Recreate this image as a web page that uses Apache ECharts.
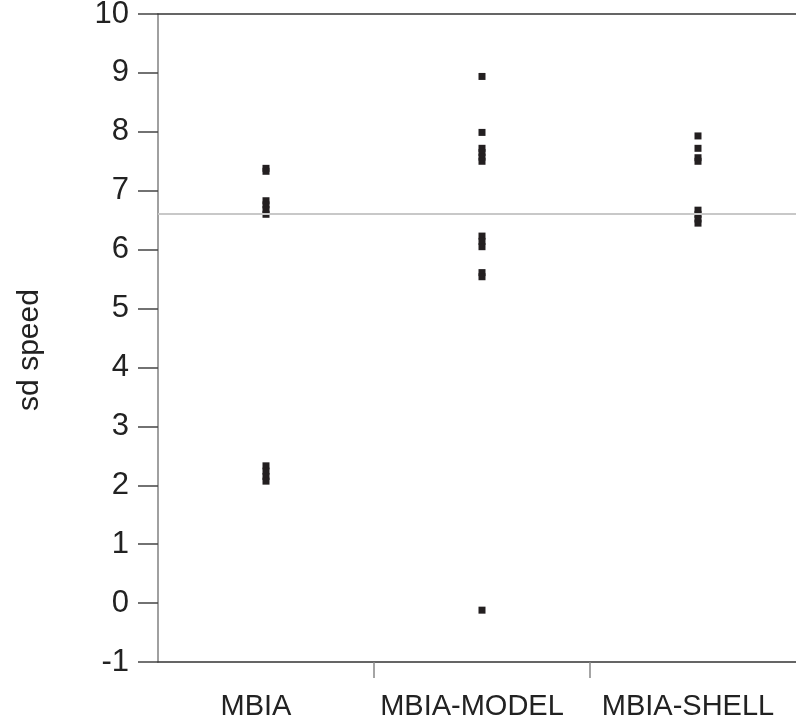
<!DOCTYPE html>
<html>
<head>
<meta charset="utf-8">
<style>
  html, body { margin: 0; padding: 0; background: #ffffff; }
  #chart { width: 796px; height: 719px; }
</style>
<script src="https://cdn.jsdelivr.net/npm/echarts@6/dist/echarts.min.js"></script>
</head>
<body>
<div id="chart"></div>
<script>
// Groups along the x axis
const categories = ['MBIA', 'MBIA-MODEL', 'MBIA-SHELL'];

// Standard deviation of speed, one entry per observation
const sdMBIA = [7.38, 7.33, 6.83, 6.76, 6.68, 6.60, 2.33, 2.24, 2.15, 2.07];
const sdMBIAModel = [8.94, 7.99, 7.72, 7.65, 7.57, 7.50, 6.23, 6.14, 6.05, 5.61, 5.54, -0.12];
const sdMBIAShell = [7.93, 7.72, 7.56, 7.50, 6.67, 6.60, 6.52, 6.45];

// Overall mean line
const overallMean = 6.61;

// Y axis range and step
const yMin = -1;
const yMax = 10;
const yStep = 1;

const groups = [sdMBIA, sdMBIAModel, sdMBIAShell];
const points = [];
groups.forEach(function (vals, gi) {
  vals.forEach(function (v) { points.push([gi, v]); });
});

const font = 'Liberation Sans, Arial, sans-serif';
const chart = echarts.init(document.getElementById('chart'));

chart.setOption({
  animation: false,
  backgroundColor: '#ffffff',
  grid: { left: 158, top: 14, height: 648, width: 648, outerBoundsMode: 'none', containLabel: false },
  xAxis: [{
    type: 'category',
    data: categories,
    boundaryGap: true,
    axisLine: { show: true, onZero: false, lineStyle: { color: '#333333', width: 1.5 } },
    axisTick: {
      show: true,
      length: 16,
      interval: function (index) { return index !== 0; },
      lineStyle: { color: '#888888', width: 1.5 }
    },
    axisLabel: {
      interval: 0,
      color: '#222222',
      fontFamily: font,
      fontSize: 29,
      margin: 30,
      padding: [0, 20, 0, 0]
    },
    splitLine: { show: false }
  }, {
    type: 'category',
    position: 'top',
    data: categories,
    axisLine: { show: true, onZero: false, lineStyle: { color: '#333333', width: 1.5 } },
    axisTick: { show: false },
    axisLabel: { show: false }
  }],
  yAxis: {
    type: 'value',
    min: yMin,
    max: yMax,
    interval: yStep,
    name: 'sd speed',
    nameLocation: 'middle',
    nameGap: 113,
    nameRotate: 90,
    nameTextStyle: { color: '#222222', fontFamily: font, fontSize: 30, padding: [0, 24, 0, 0] },
    axisLine: { show: true, lineStyle: { color: '#808080', width: 1.5 } },
    axisTick: {
      show: true,
      inside: false,
      length: 20,
      lineStyle: { color: '#444444', width: 1.5 }
    },
    axisLabel: {
      color: '#222222',
      fontFamily: font,
      fontSize: 31,
      margin: 29
    },
    splitLine: { show: false }
  },
  series: [{
    type: 'scatter',
    data: points,
    symbol: 'rect',
    symbolSize: [7, 7],
    itemStyle: { color: '#231f20', opacity: 1 },
    markLine: {
      silent: true,
      symbol: ['none', 'none'],
      label: { show: false },
      lineStyle: { color: '#c8c8c8', width: 2, type: 'solid' },
      data: [{ yAxis: overallMean }]
    },
    z: 3
  }]
});
</script>
</body>
</html>
